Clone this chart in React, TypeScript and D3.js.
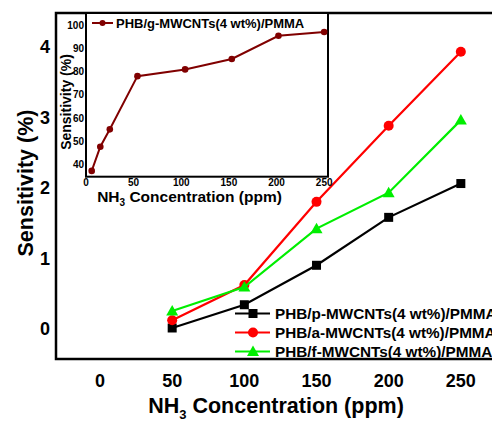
import React from "react";
import * as d3 from "d3";

const concentrations = [50, 100, 150, 200, 250];
const pSeries = [0.01, 0.34, 0.9, 1.58, 2.06];
const aSeries = [0.12, 0.62, 1.8, 2.88, 3.93];
const fSeries = [0.25, 0.59, 1.42, 1.93, 2.96];
const seriesNames = [
  "PHB/p-MWCNTs(4 wt%)/PMMA",
  "PHB/a-MWCNTs(4 wt%)/PMMA",
  "PHB/f-MWCNTs(4 wt%)/PMMA",
];
const seriesColors = ["#000000", "#ff0000", "#00ee00"];
const xTicks = [0, 50, 100, 150, 200, 250];
const yTicks = [0, 1, 2, 3, 4];

const insetX = [6, 15, 25, 54, 104, 153, 202, 250];
const insetY = [37.2, 47.6, 55.1, 78, 80.9, 85.4, 95.4, 97];
const insetName = "PHB/g-MWCNTs(4 wt%)/PMMA";
const insetXTicks = [0, 50, 100, 150, 200, 250];
const insetYTicks = [40, 50, 60, 70, 80, 90, 100];

const FONT = "'Liberation Sans', Arial, sans-serif";

const marker = (kind: string, x: number, y: number, color: string, key?: any) => {
  if (kind === "square")
    return <rect key={key} x={x - 4.5} y={y - 4.5} width={9} height={9} fill={color} />;
  if (kind === "circle") return <circle key={key} cx={x} cy={y} r={5} fill={color} />;
  return (
    <path
      key={key}
      d={`M${x},${y - 6}L${x + 6},${y + 4.5}L${x - 6},${y + 4.5}Z`}
      fill={color}
    />
  );
};

export default function App() {
  const width = 492;
  const height = 421;

  const x = d3.scaleLinear().domain([-30.5, 300]).range([56, 533]);
  const y = d3.scaleLinear().domain([-0.43, 4.48]).range([359, 13]);

  const ix = d3.scaleLinear().domain([0, 254]).range([86, 328]);
  const iy = d3.scaleLinear().domain([34.7, 105.2]).range([176.7, 13]);

  const all = [pSeries, aSeries, fSeries];
  const kinds = ["square", "circle", "triangle"];
  const line = d3
    .line<number>()
    .x((_, i) => x(concentrations[i]))
    .y((d) => y(d));
  const insetLine = d3
    .line<number>()
    .x((_, i) => ix(insetX[i]))
    .y((d) => iy(d));

  return (
    <svg
      width={width}
      height={height}
      style={{ position: "absolute", left: 0, top: 0, background: "#fff" }}
      fontFamily={FONT}
      fontWeight="bold"
    >
      {/* main frame */}
      <rect x={56} y={13} width={480} height={346} fill="none" stroke="#000" strokeWidth={2.5} />

      {yTicks.map((t) => (
        <text key={t} x={50} y={y(t)} dy="0.36em" textAnchor="end" fontSize={18}>
          {t}
        </text>
      ))}
      {xTicks.map((t) => (
        <text key={t} x={x(t)} y={387} textAnchor="middle" fontSize={18}>
          {t}
        </text>
      ))}
      <text x={276} y={413} textAnchor="middle" fontSize={21.5}>
        NH<tspan fontSize={13} dy={6}>3</tspan>
        <tspan dy={-6}> Concentration (ppm)</tspan>
      </text>
      <text transform="translate(33,183) rotate(-90)" textAnchor="middle" fontSize={21.5}>
        Sensitivity (%)
      </text>

      {all.map((s, k) => (
        <g key={k}>
          <path d={line(s) || ""} fill="none" stroke={seriesColors[k]} strokeWidth={2.2} />
          {s.map((v, i) => marker(kinds[k], x(concentrations[i]), y(v), seriesColors[k], i))}
        </g>
      ))}

      {/* legend */}
      {seriesNames.map((n, k) => {
        const ly = 313.5 + k * 19;
        return (
          <g key={n}>
            <line x1={235} x2={270} y1={ly} y2={ly} stroke={seriesColors[k]} strokeWidth={2.2} />
            {marker(kinds[k], 253, ly, seriesColors[k])}
            <text x={275} y={ly} dy="0.36em" fontSize={15.3}>
              {n}
            </text>
          </g>
        );
      })}

      {/* inset */}
      <rect x={86} y={13} width={242} height={163.7} fill="#fff" stroke="#000" strokeWidth={2} />
      {insetYTicks.map((t) => (
        <text key={t} x={84} y={iy(t)} dy="0.36em" textAnchor="end" fontSize={10}>
          {t}
        </text>
      ))}
      {insetXTicks.map((t) => (
        <text key={t} x={ix(t)} y={186} textAnchor="middle" fontSize={10}>
          {t}
        </text>
      ))}
      <text transform="translate(71,102) rotate(-90)" textAnchor="middle" fontSize={14}>
        Sensitivity (%)
      </text>
      <text x={189.5} y={202} textAnchor="middle" fontSize={15.5}>
        NH<tspan fontSize={10} dy={4}>3</tspan>
        <tspan dy={-4}> Concentration (ppm)</tspan>
      </text>
      <path d={insetLine(insetY) || ""} fill="none" stroke="#800000" strokeWidth={2} />
      {insetY.map((v, i) => (
        <circle key={i} cx={ix(insetX[i])} cy={iy(v)} r={3.3} fill="#800000" />
      ))}
      <line x1={92} x2={113} y1={23} y2={23} stroke="#800000" strokeWidth={2} />
      <circle cx={102.5} cy={23} r={3} fill="#800000" />
      <text x={116} y={23} dy="0.36em" fontSize={13}>
        {insetName}
      </text>
    </svg>
  );
}
